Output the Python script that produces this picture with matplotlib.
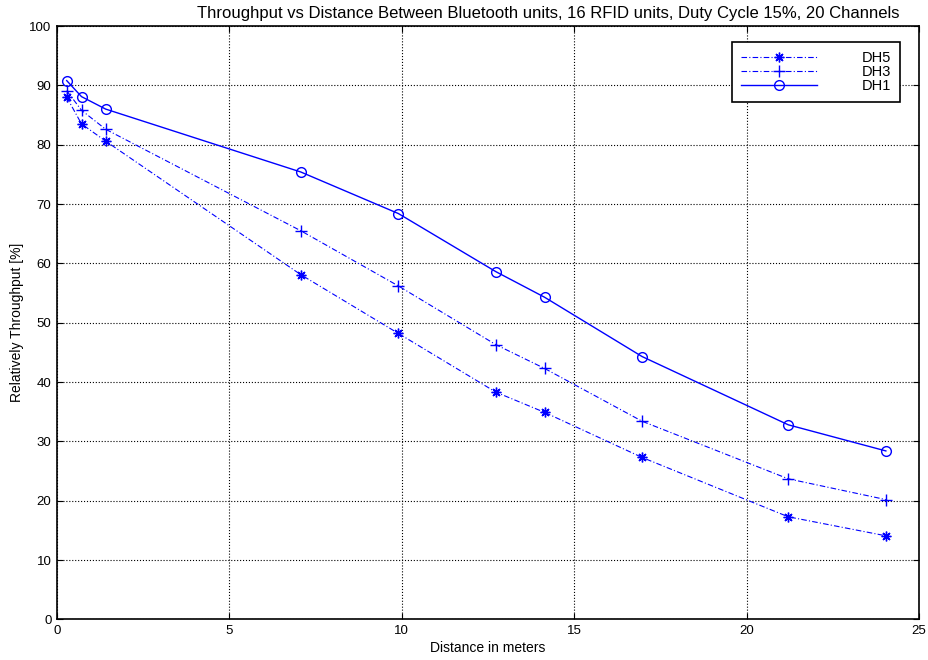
"""
Throughput vs distance between Bluetooth units (MATLAB-style line chart)
"""

import matplotlib.pyplot as plt
import numpy as np

# distance in meters (same x for all three series)
distance = [0.28, 0.71, 1.41, 7.07, 9.90, 12.73, 14.14, 16.97, 21.21, 24.04]

# relative throughput [%]
dh5 = [88.0, 83.5, 80.6, 58.1, 48.2, 38.3, 34.9, 27.3, 17.3, 14.1]
dh3 = [89.1, 85.8, 82.6, 65.5, 56.2, 46.3, 42.3, 33.4, 23.7, 20.2]
dh1 = [90.8, 88.1, 86.0, 75.4, 68.4, 58.6, 54.3, 44.3, 32.8, 28.4]

xticks = [0, 5, 10, 15, 20, 25]
yticks = [0, 10, 20, 30, 40, 50, 60, 70, 80, 90, 100]


def plot_throughput():
    fig = plt.figure(figsize=(9.29, 6.6), dpi=100)
    ax = fig.add_axes([0.0614, 0.0614, 0.9278, 0.8992])

    dashdot = (0, (5, 2, 1, 2))
    # MATLAB-like asterisk: + and x overlaid
    ax.plot(distance, dh5, color='blue', linestyle=dashdot, linewidth=0.8,
            marker=(8, 2, 0), markersize=7, markeredgewidth=1, label='DH5')
    ax.plot(distance, dh3, color='blue', linestyle=dashdot, linewidth=0.8,
            marker='+', markersize=8, markeredgewidth=1, label='DH3')
    ax.plot(distance, dh1, color='blue', linestyle='-', linewidth=1,
            marker='o', markersize=7, markerfacecolor='none',
            markeredgewidth=1, label='DH1')

    ax.set_xlim(0, 25)
    ax.set_ylim(0, 100)
    ax.set_xticks(xticks)
    ax.set_yticks(yticks)
    ax.grid(True, color='black', linestyle=':', linewidth=0.8)
    ax.tick_params(direction='in', top=True, right=True, length=4,
                   labelsize=9.5, pad=4)
    for sp in ax.spines.values():
        sp.set_linewidth(1.2)

    ax.set_title('Throughput vs Distance Between Bluetooth units, 16 RFID units, '
                 'Duty Cycle 15%, 20 Channels', fontsize=12, pad=6, x=0.57)
    ax.set_xlabel('Distance in meters', fontsize=10, labelpad=3)
    ax.set_ylabel('Relatively Throughput [%]', fontsize=10, labelpad=4)

    leg = ax.legend(loc='upper right', bbox_to_anchor=(0.978, 0.973),
                    borderaxespad=0, fontsize=10.5, fancybox=False,
                    framealpha=1, edgecolor='black', handlelength=5.2,
                    handletextpad=3.1, borderpad=0.6, labelspacing=0.0)
    leg.get_frame().set_linewidth(1.2)

    fig.savefig('out.png', dpi=100)


if __name__ == "__main__":
    plt.rcParams['font.family'] = ['Liberation Sans', 'DejaVu Sans']
    plt.rcParams['figure.facecolor'] = 'white'
    plot_throughput()
